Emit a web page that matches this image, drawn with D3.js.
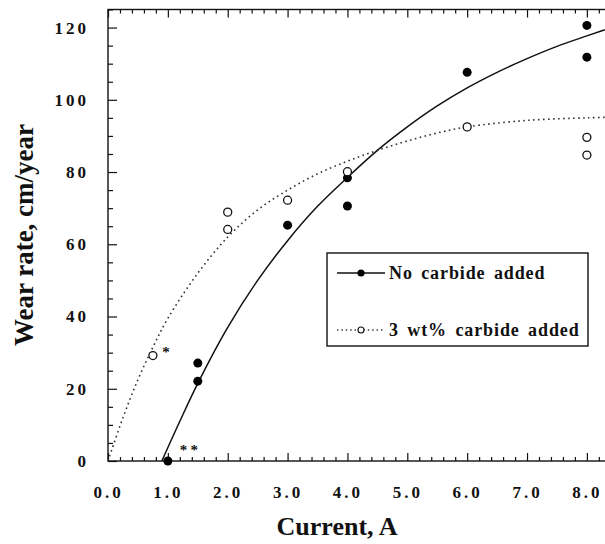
<!DOCTYPE html>
<html>
<head>
<meta charset="utf-8">
<script src="https://cdn.jsdelivr.net/npm/d3@7"></script>
<style>
  body { margin: 0; background: #fff; }
  svg { display: block; }
  text { font-family: "Liberation Serif", "Times New Roman", serif; font-weight: bold; fill: #111; }
</style>
</head>
<body>
<div id="chart"></div>
<script>
// measured points, no carbide added (filled)
const noCarbideX = [1.0, 1.5, 1.5, 3.0, 4.0, 4.0, 6.0, 8.0, 8.0];
const noCarbideY = [0, 27.1, 22.1, 65.3, 78.4, 70.6, 107.6, 120.6, 111.8];
// measured points, 3 wt% carbide added (open)
const carbideX = [0.75, 2.0, 2.0, 3.0, 4.0, 6.0, 8.0, 8.0];
const carbideY = [29.2, 68.9, 64.1, 72.2, 80.1, 92.5, 89.6, 84.7];

// fitted curves
const solidCurveX = [0.9, 1.2, 1.5, 2.0, 2.5, 3.0, 3.5, 4.0, 4.5, 5.0, 5.5, 6.0, 6.5, 7.0, 7.5, 8.0, 8.6];
const solidCurveY = [0, 11, 21.5, 37, 50, 61, 70.5, 78.5, 86, 92.5, 98.3, 103.3, 107.6, 111.4, 114.8, 117.7, 121];
const dottedCurveX = [0, 0.25, 0.5, 0.75, 1.0, 1.5, 2.0, 2.5, 3.0, 3.5, 4.0, 4.5, 5.0, 5.5, 6.0, 7.0, 8.0, 8.6];
const dottedCurveY = [0, 12, 22.5, 31.5, 39.5, 52, 62, 69.5, 75, 79.5, 83, 86, 88.6, 90.8, 92.5, 94.3, 95, 95.3];

// asterisk notes
const noteX = [0.97, 1.26, 1.44];
const noteY = [30.5, 3.2, 3.2];
const noteText = ["*", "*", "*"];

const xTicks = [0, 1, 2, 3, 4, 5, 6, 7, 8];
const yTicks = [0, 20, 40, 60, 80, 100, 120];
const seriesNames = ["No carbide added", "3 wt% carbide added"];

const W = 605, H = 544;
const margin = {left: 108, top: 9.5, bottom: 461};

const svg = d3.select("#chart").append("svg")
  .attr("width", W).attr("height", H);

const x = d3.scaleLinear().domain([0, 8.6]).range([margin.left, margin.left + 8.6 * 59.86]);
const y = d3.scaleLinear().domain([0, 125]).range([margin.bottom, margin.top]);
const plotRight = x(8.6);

svg.append("clipPath").attr("id", "plot")
  .append("rect").attr("x", margin.left).attr("y", margin.top)
  .attr("width", plotRight - margin.left).attr("height", margin.bottom - margin.top);

// frame
svg.append("rect")
  .attr("x", margin.left).attr("y", margin.top)
  .attr("width", plotRight - margin.left).attr("height", margin.bottom - margin.top)
  .attr("fill", "none").attr("stroke", "#111").attr("stroke-width", 1.4);

const minorX = d3.range(0, 8.61, 0.2).filter(v => Math.abs(v - Math.round(v)) > 0.01);
const minorY = d3.range(0, 125.1, 5).filter(v => v % 20 !== 0);

function styleAxis(g) {
  g.select(".domain").remove();
  g.selectAll("line").attr("stroke", "#111").attr("stroke-width", 1.2);
}

// bottom axis
svg.append("g").attr("transform", `translate(0,${margin.bottom})`)
  .call(d3.axisBottom(x).tickValues(xTicks).tickSize(-8).tickPadding(25).tickFormat(d3.format(".1f")))
  .call(styleAxis)
  .selectAll("text").attr("font-size", 17).attr("letter-spacing", 3).attr("fill", "#111")
  .attr("font-family", "Liberation Serif").attr("font-weight", "bold");
svg.append("g").attr("transform", `translate(0,${margin.bottom})`)
  .call(d3.axisBottom(x).tickValues(minorX).tickSize(-4).tickFormat(""))
  .call(styleAxis);

// top axis
svg.append("g").attr("transform", `translate(0,${margin.top})`)
  .call(d3.axisTop(x).tickValues(xTicks).tickSize(-8).tickFormat(""))
  .call(styleAxis);
svg.append("g").attr("transform", `translate(0,${margin.top})`)
  .call(d3.axisTop(x).tickValues(minorX).tickSize(-4).tickFormat(""))
  .call(styleAxis);

// left axis
svg.append("g").attr("transform", `translate(${margin.left},0)`)
  .call(d3.axisLeft(y).tickValues(yTicks).tickSize(-9).tickPadding(19))
  .call(styleAxis)
  .selectAll("text").attr("font-size", 17).attr("letter-spacing", 3).attr("fill", "#111")
  .attr("font-family", "Liberation Serif").attr("font-weight", "bold");
svg.append("g").attr("transform", `translate(${margin.left},0)`)
  .call(d3.axisLeft(y).tickValues(minorY).tickSize(-5).tickFormat(""))
  .call(styleAxis);

// axis titles
svg.append("text")
  .attr("x", 337).attr("y", 535)
  .attr("text-anchor", "middle").attr("font-size", 26)
  .text("Current, A");
svg.append("text")
  .attr("transform", "translate(33,235) rotate(-90)")
  .attr("text-anchor", "middle").attr("font-size", 27)
  .text("Wear rate, cm/year");

// curves
const line = d3.line().x(d => x(d[0])).y(d => y(d[1])).curve(d3.curveCatmullRom.alpha(0.5));
const plot = svg.append("g").attr("clip-path", "url(#plot)");
plot.append("path")
  .datum(solidCurveX.map((v, i) => [v, solidCurveY[i]]))
  .attr("d", line).attr("fill", "none").attr("stroke", "#111").attr("stroke-width", 1.5);
plot.append("path")
  .datum(dottedCurveX.map((v, i) => [v, dottedCurveY[i]]))
  .attr("d", line).attr("fill", "none").attr("stroke", "#333").attr("stroke-width", 1.6)
  .attr("stroke-dasharray", "1.6,3.4");

// points
svg.selectAll(".filled")
  .data(noCarbideX.map((v, i) => [v, noCarbideY[i]]))
  .join("circle").attr("class", "filled")
  .attr("cx", d => x(d[0])).attr("cy", d => y(d[1]))
  .attr("r", 4.5).attr("fill", "#000");
svg.selectAll(".open")
  .data(carbideX.map((v, i) => [v, carbideY[i]]))
  .join("circle").attr("class", "open")
  .attr("cx", d => x(d[0])).attr("cy", d => y(d[1]))
  .attr("r", 4).attr("fill", "#fff").attr("stroke", "#111").attr("stroke-width", 1.3);

// asterisks
svg.selectAll(".note")
  .data(noteX.map((v, i) => [v, noteY[i], noteText[i]]))
  .join("text").attr("class", "note")
  .attr("x", d => x(d[0])).attr("y", d => y(d[1]) + 6)
  .attr("text-anchor", "middle").attr("font-size", 15)
  .text(d => d[2]);

// legend
const lg = svg.append("g").attr("transform", "translate(327,253)");
lg.append("rect").attr("width", 261).attr("height", 93)
  .attr("fill", "#fff").attr("stroke", "#111").attr("stroke-width", 1.4);
lg.append("line").attr("x1", 10).attr("x2", 58).attr("y1", 20).attr("y2", 20)
  .attr("stroke", "#111").attr("stroke-width", 1.5);
lg.append("circle").attr("cx", 34).attr("cy", 20).attr("r", 3.6).attr("fill", "#000");
lg.append("line").attr("x1", 10).attr("x2", 58).attr("y1", 77).attr("y2", 77)
  .attr("stroke", "#333").attr("stroke-width", 1.4).attr("stroke-dasharray", "1.4,3");
lg.append("circle").attr("cx", 34).attr("cy", 77).attr("r", 3).attr("fill", "#fff")
  .attr("stroke", "#111").attr("stroke-width", 1.1);
lg.selectAll(".lt").data(seriesNames).join("text").attr("class", "lt")
  .attr("x", 62).attr("y", (d, i) => i === 0 ? 26 : 83)
  .attr("font-size", 18).attr("letter-spacing", 0.9).attr("word-spacing", 3)
  .text(d => d);
</script>
</body>
</html>
